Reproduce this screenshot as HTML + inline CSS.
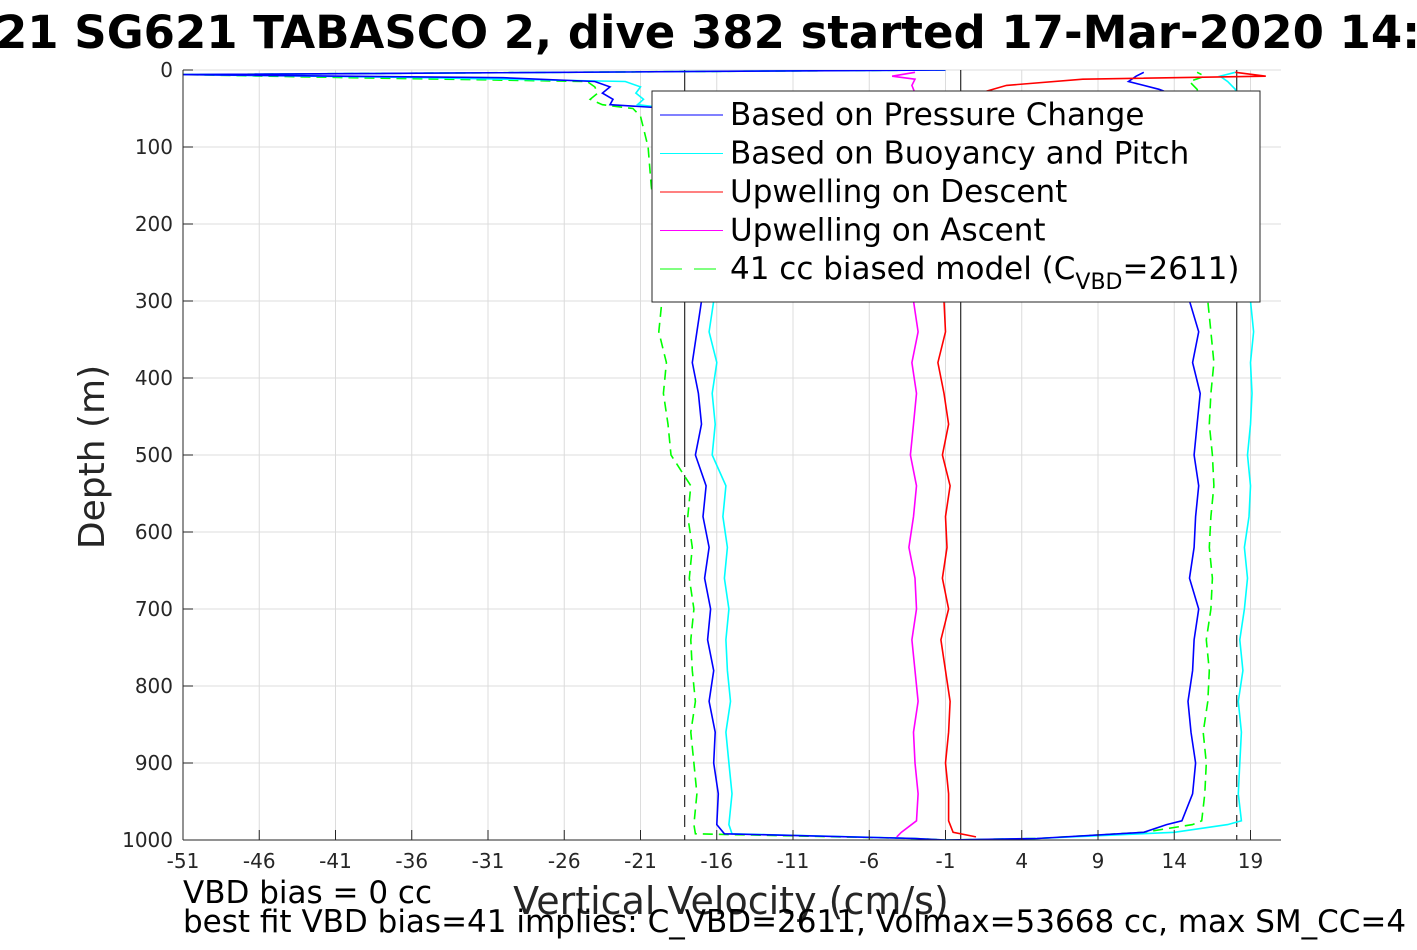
<!DOCTYPE html>
<html><head><meta charset="utf-8"><style>
body{margin:0;background:#fff;width:1417px;height:945px;overflow:hidden;font-family:"Liberation Sans","DejaVu Sans",sans-serif}
svg text{font-family:"DejaVu Sans","Liberation Sans",sans-serif}
</style></head><body>
<svg id="chart" width="1417" height="945" xmlns="http://www.w3.org/2000/svg">
<text x="-4" y="48" font-size="45" font-weight="bold" fill="#000">21 SG621 TABASCO 2, dive 382 started 17-Mar-2020 14:</text>
<g id="grid"></g>
<defs><clipPath id="pc"><rect x="183" y="70" width="1098" height="770"/></clipPath></defs>
<g id="series" clip-path="url(#pc)"></g>
<g id="axes"></g>
<text x="731" y="914" font-size="38" text-anchor="middle" fill="#262626">Vertical Velocity (cm/s)</text>
<text transform="translate(104,457) rotate(-90)" font-size="36" text-anchor="middle" fill="#262626">Depth (m)</text>
<text x="183" y="903" font-size="31" fill="#000">VBD bias = 0 cc</text>
<text x="183" y="932" font-size="31" fill="#000">best fit VBD bias=41 implies: C_VBD=2611, Volmax=53668 cc, max SM_CC=4</text>
<g id="legend"></g>
</svg>
<script>
const xTicks=[-51,-46,-41,-36,-31,-26,-21,-16,-11,-6,-1,4,9,14,19];
const yTicks=[0,100,200,300,400,500,600,700,800,900,1000];
const depthDesc=[0,6,10,15,22,30,38,45,50,60,100,150,200,260,300,340,380,420,460,500,540,580,620,660,700,740,780,820,860,900,940,980,992,998,1000];
const blueDesc=[-1,-51,-30,-24,-23,-23.5,-22.8,-23,-19,-18,-17.5,-17.4,-17.3,-17.2,-17,-17.3,-17.6,-17.2,-17,-17.4,-16.7,-16.9,-16.5,-16.8,-16.4,-16.6,-16.2,-16.5,-16.1,-16.2,-15.9,-16,-15.5,-3,-1];
const cyanDesc=[-1,-51,-35,-22,-21,-21.3,-20.8,-21.2,-19,-18,-17,-16.8,-16.5,-16.3,-16.2,-16.5,-16,-16.3,-16.1,-16.3,-15.4,-15.6,-15.3,-15.5,-15.2,-15.4,-15.3,-15.1,-15.4,-15.2,-15,-15.2,-15,-3,-1];
const greenDesc=[-1,-51,-40,-24.5,-24,-23.8,-24.3,-23.5,-21.5,-21,-20.5,-20.3,-20,-19.8,-19.6,-19.8,-19.3,-19.5,-19.2,-19,-17.7,-17.9,-17.6,-17.8,-17.5,-17.7,-17.6,-17.4,-17.7,-17.5,-17.3,-17.5,-17.4,-3,-1];
const depthAsc=[1000,998,990,980,975,940,900,860,820,780,740,700,660,620,580,540,500,460,420,380,340,300,260,200,150,100,60,40,25,15,8,3];
const blueAsc=[-1,5,12,13.5,14.5,15.2,15.4,15.1,14.9,15.2,15.3,15.6,15,15.3,15.4,15.6,15.3,15.5,15.7,15.2,15.6,15,15.3,15.5,15.2,15,14.8,15,13,11,11.5,12];
const cyanAsc=[-1,5,14,17.5,18.4,18.2,18.3,18.4,18.2,18.5,18.3,18.6,18.8,18.6,18.9,19,18.8,19,19.1,19,19.2,19,18.9,18.8,18.6,18.4,18.3,18.2,18,17.5,17,18];
const greenAsc=[-1,5,12,15.2,15.8,16,16.1,15.9,16.2,16.3,16.1,16.4,16.5,16.3,16.4,16.6,16.5,16.3,16.4,16.6,16.4,16.2,16.3,16.5,16.2,16.1,16,15.8,15.5,15,16,15.5];
const depthUp=[3,8,12,20,40,60,100,150,200,260,300,340,380,420,460,500,540,580,620,660,700,740,780,820,860,900,940,975,990,996];
const magentaUp=[-3,-4.5,-3,-3.2,-2.8,-3,-3.1,-3,-3.2,-3,-3.1,-2.8,-3.2,-2.9,-3.1,-3.3,-2.9,-3.1,-3.4,-3,-2.9,-3.2,-3,-2.8,-3.1,-3,-2.8,-2.9,-3.9,-4.2];
const redUp=[18,20,8,3,-0.5,-1,-1,-0.8,-1,-0.9,-1.1,-1.0,-1.5,-1.1,-0.8,-1.2,-0.7,-1,-0.9,-1.2,-0.8,-1.3,-1,-0.7,-0.8,-1,-0.8,-0.8,-0.5,1];
const vLines=[-18.1,0,18.1];

const NS='http://www.w3.org/2000/svg';
const X0=183,X1=1281,Y0=70,Y1=840,XMIN=-51,XMAX=21,YMAX=1000;
function xs(v){return X0+(v-XMIN)/(XMAX-XMIN)*(X1-X0);}
function ys(d){return Y0+d/YMAX*(Y1-Y0);}
function mk(tag,attrs,parent){const e=document.createElementNS(NS,tag);for(const k in attrs)e.setAttribute(k,attrs[k]);parent.appendChild(e);return e;}
const grid=document.getElementById('grid'),axes=document.getElementById('axes'),ser=document.getElementById('series'),leg=document.getElementById('legend');
mk('rect',{x:X0,y:Y0,width:X1-X0,height:Y1-Y0,fill:'#fff'},grid);
xTicks.forEach(t=>{
  const l=mk('line',{x1:xs(t),x2:xs(t),y1:Y0,y2:Y1,stroke:'#dcdcdc','stroke-width':1},grid);
  
  
  const tk=mk('line',{x1:xs(t),x2:xs(t),y1:Y1,y2:Y1-10,stroke:'#262626'},axes);
  
  
  const tx=mk('text',{x:xs(t),y:Y1+28,'font-size':20,'text-anchor':'middle',fill:'#262626'},axes);
  tx.textContent=t;
  
  
});
yTicks.forEach(t=>{
  const l=mk('line',{x1:X0,x2:X1,y1:ys(t),y2:ys(t),stroke:'#dcdcdc','stroke-width':1},grid);
  
  
  const tk=mk('line',{x1:X0,x2:X0+10,y1:ys(t),y2:ys(t),stroke:'#262626'},axes);
  
  
  const tx=mk('text',{x:X0-10,y:ys(t)+7,'font-size':20,'text-anchor':'end',fill:'#262626'},axes);
  tx.textContent=t;
  
  
});
mk('line',{x1:X0,x2:X0,y1:Y0,y2:Y1,stroke:'#262626'},axes);
mk('line',{x1:X0,x2:X1,y1:Y1,y2:Y1,stroke:'#262626'},axes);
vLines.forEach((v,i)=>{
  const a=mk('line',{x1:xs(v),x2:xs(v),y1:Y0,y2:i==1?Y1:ys(500),stroke:'#000','stroke-width':1},ser);
  
  
  if(i!=1){const b=mk('line',{x1:xs(v),x2:xs(v),y1:ys(500),y2:Y1,stroke:'#000','stroke-dasharray':'12,8'},ser);
  
  }
});
function line(vals,deps,color,name,dash){
  const p=vals.map((v,i)=>xs(v).toFixed(1)+','+ys(deps[i]).toFixed(1)).join(' ');
  const e=mk('polyline',{points:p,fill:'none',stroke:color,'stroke-width':1.6},ser);
  if(dash)e.setAttribute('stroke-dasharray',dash);
  
  
}
line(greenDesc,depthDesc,'#00ff00','model-descent','10,6');
line(greenAsc,depthAsc,'#00ff00','model-ascent','10,6');
line(cyanDesc,depthDesc,'#00ffff','buoyancy-descent');
line(cyanAsc,depthAsc,'#00ffff','buoyancy-ascent');
line(blueDesc,depthDesc,'#0000ff','pressure-descent');
line(blueAsc,depthAsc,'#0000ff','pressure-ascent');
line(magentaUp,depthUp,'#ff00ff','upwelling-ascent');
line(redUp,depthUp,'#ff0000','upwelling-descent');
mk('rect',{x:652,y:91,width:608,height:211,fill:'#fff',stroke:'#262626','stroke-width':1},leg);
const legLabels=['Based on Pressure Change','Based on Buoyancy and Pitch','Upwelling on Descent','Upwelling on Ascent'];
const legColors=['#0000ff','#00ffff','#ff0000','#ff00ff'];
legLabels.forEach((s,i)=>{
  const y=115+i*38.5;
  const l=mk('line',{x1:660,x2:723,y1:y,y2:y,stroke:legColors[i],'stroke-width':1},leg);
  
  
  const t=mk('text',{x:730,y:y+10,'font-size':31,fill:'#000'},leg);
  t.textContent=s;
  
  
});
const ly=269;
const gl=mk('line',{x1:660,x2:723,y1:ly,y2:ly,stroke:'#00ff00','stroke-dasharray':'22,12'},leg);


const gt=mk('text',{x:730,y:ly+10,'font-size':31,fill:'#000'},leg);
gt.innerHTML='41 cc biased model (C<tspan font-size="22" dy="10">VBD</tspan><tspan dy="-10">=2611)</tspan>';


</script>
</body></html>
